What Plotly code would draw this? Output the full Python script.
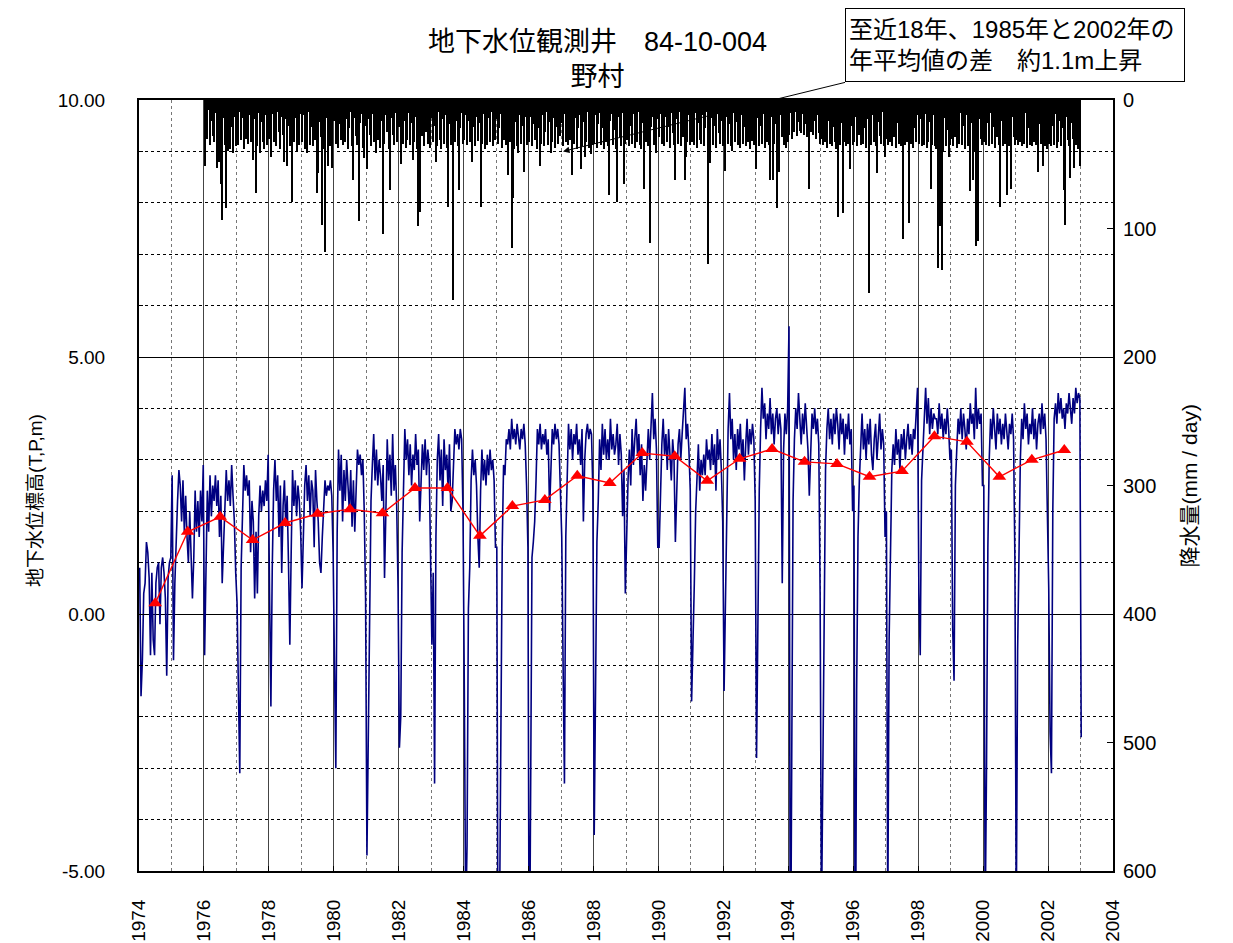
import plotly.graph_objects as go

# groundwater level (T.P. m), half-month readings, 24 per year
gw_1974 = [0.9, -1.6, -0.9, 0.4, 0.6, 1.4, 1.2, 0.7, -0.8, 0.8, -0.5, -0.8, 0.6, 0.9, 1.0, -0.2, 0.9, 1.1, 0.8, 0.3, -1.2, 0.7, 1.0, 1.1]
gw_1975 = [2.7, -0.9, 0.6, 1.5, 2.2, 2.8, 2.5, 1.8, 2.6, 1.6, 2.3, 1.5, 1.0, 2.0, 1.2, 0.3, 1.1, 2.4, 1.6, 2.2, 1.5, 2.4, 1.8, 2.9]
gw_1976 = [-0.8, 1.2, 2.4, 1.6, 2.7, 1.9, 2.5, 2.2, 2.7, 2.1, 2.6, 1.5, 2.3, 0.6, 1.4, 1.9, 2.8, 2.2, 2.6, 2.1, 2.9, 2.3, 1.8, 0.8]
gw_1977 = [0.2, -1.5, -3.1, 0.9, 1.8, 2.9, 2.4, 2.7, 2.3, 2.6, 1.2, 2.2, 1.8, 0.3, 1.6, 0.4, 1.9, 2.5, 2.0, 2.4, 2.1, 2.6, 2.2, 3.1]
gw_1978 = [0.4, -1.8, 0.9, 2.4, 3.0, 2.2, 2.7, 1.5, 2.5, 0.8, 2.1, 2.6, 1.7, 2.3, 1.0, -0.6, 1.2, 2.8, 2.1, 2.6, 1.9, 2.5, 2.2, 1.6]
gw_1979 = [0.5, 1.6, 2.5, 2.9, 2.2, 2.7, 1.9, 2.6, 2.4, 1.3, 2.8, 2.2, 1.8, 1.0, 0.8, 1.5, 2.1, 2.6, 2.3, 2.5, 2.4, 2.6, 2.3, 1.2]
gw_1980 = [-1.0, -3.0, 1.6, 3.2, 2.4, 3.1, 1.8, 2.8, 2.2, 3.0, 2.5, 2.0, 2.8, 1.7, 2.6, 1.6, 2.4, 3.2, 2.9, 3.1, 2.7, 3.0, 2.0, 0.3]
gw_1981 = [-4.7, -1.9, 0.8, 2.2, 2.9, 3.5, 2.6, 3.2, 2.5, 3.0, 2.7, 2.2, 2.9, 0.7, 2.0, 3.4, 2.6, 3.1, 2.3, 3.5, 2.4, 2.9, 2.1, 0.5]
gw_1982 = [-2.6, -2.0, 1.2, 2.6, 3.6, 3.0, 3.4, 2.7, 3.3, 2.5, 3.1, 2.8, 3.5, 2.9, 3.2, 1.8, 2.6, 3.3, 2.8, 3.4, 2.7, 3.2, 2.9, 1.2]
gw_1983 = [-0.6, 0.8, -3.3, 1.5, 3.0, 3.5, 2.6, 3.2, 2.1, 3.4, 2.8, 3.1, 2.4, 3.3, 2.0, 2.2, 2.9, 3.6, 3.3, 3.5, 3.2, 3.6, 3.4, 2.0]
gw_1984 = [-1.5, -6.0, -4.5, 0.1, 0.9, 2.6, 3.2, 2.7, 3.0, 2.5, 1.5, 0.9, 2.4, 3.2, 2.6, 3.0, 2.5, 3.1, 2.7, 3.2, 2.8, 3.0, 2.6, 1.3]
gw_1985 = [1.3, -8.0, -6.0, -1.2, 1.3, 2.9, 2.7, 3.4, 3.3, 3.6, 3.2, 3.8, 3.4, 3.6, 3.3, 3.7, 3.5, 3.2, 3.6, 3.4, 3.7, 3.3, 2.5, 1.3]
gw_1986 = [-8.0, -4.0, 1.1, 1.4, 1.8, 2.6, 3.6, 3.3, 3.7, 3.2, 3.5, 3.3, 3.6, 3.1, 3.4, 2.0, 3.0, 3.6, 3.3, 3.7, 3.4, 3.6, 3.3, 2.2]
gw_1987 = [1.5, -1.0, -3.3, 1.5, 2.8, 3.7, 3.2, 3.6, 3.0, 3.5, 3.3, 3.7, 3.1, 3.4, 2.9, 3.6, 1.8, 3.0, 3.5, 3.7, 3.4, 3.6, 3.5, 2.4]
gw_1988 = [-4.3, -1.9, 1.4, 2.2, 3.4, 2.8, 3.7, 3.1, 3.6, 3.0, 3.4, 3.0, 3.8, 3.2, 3.5, 3.1, 3.3, 3.7, 2.9, 3.5, 3.1, 1.9, 2.8, 0.4]
gw_1989 = [1.9, 2.6, 3.2, 2.5, 3.6, 2.9, 3.4, 3.8, 3.1, 3.5, 2.7, 3.3, 2.2, 2.9, 2.4, 3.2, 3.6, 3.0, 3.9, 4.3, 3.4, 3.8, 3.2, 1.3]
gw_1990 = [1.3, 2.4, 3.3, 3.8, 3.1, 3.5, 2.8, 3.6, 3.2, 2.6, 3.4, 3.0, 1.4, 2.2, 3.3, 3.6, 3.0, 3.5, 3.9, 4.4, 3.4, 3.7, 3.2, 2.4]
gw_1991 = [-1.7, -0.7, 0.6, 2.0, 2.6, 3.3, 2.4, 3.0, 2.7, 3.1, 2.7, 3.4, 3.0, 3.2, 2.8, 3.5, 2.9, 3.3, 2.4, 3.6, 3.0, 3.4, 2.8, 1.8]
gw_1992 = [-1.5, 0.1, 2.3, 3.6, 4.3, 3.4, 3.8, 3.0, 3.5, 2.8, 3.6, 3.2, 3.7, 3.0, 3.4, 2.6, 3.3, 3.8, 3.1, 3.6, 3.3, 3.7, 3.4, 2.2]
gw_1993 = [-2.8, 0.1, 2.4, 3.6, 4.4, 3.8, 4.1, 3.4, 3.9, 3.6, 4.2, 3.5, 3.9, 3.3, 3.8, 4.0, 3.5, 3.9, 3.6, 0.6, 3.2, 3.9, 3.5, 4.0]
gw_1994 = [5.6, -8.0, -2.0, 2.2, 3.4, 4.0, 3.6, 4.3, 3.8, 3.3, 3.9, 3.5, 4.1, 3.6, 3.2, 2.3, 3.4, 3.9, 3.6, 4.0, 3.5, 3.8, 3.3, 0.4]
gw_1995 = [-6.0, -2.5, 1.2, 2.8, 3.6, 4.0, 3.4, 3.8, 3.3, 3.9, 3.5, 4.0, 3.7, 3.2, 3.9, 3.5, 3.8, 3.1, 3.7, 3.4, 3.9, 3.3, 3.6, 2.0]
gw_1996 = [2.5, -8.0, -1.5, 1.5, 2.6, 3.5, 3.9, 3.2, 3.6, 3.0, 3.7, 3.3, 3.8, 3.1, 2.8, 3.4, 3.7, 3.0, 3.5, 3.9, 3.2, 3.6, 3.3, 1.5]
gw_1997 = [2.0, -6.0, -0.5, 1.0, 2.8, 3.3, 2.9, 3.6, 3.1, 3.4, 2.8, 3.5, 3.2, 3.6, 3.0, 3.4, 3.7, 3.2, 3.5, 3.1, 3.6, 3.4, 3.9, 4.4]
gw_1998 = [0.4, -0.8, 2.6, 3.2, 3.9, 4.4, 3.7, 4.2, 3.5, 4.0, 3.6, 3.9, 3.8, 3.8, 3.5, 4.1, 3.6, 3.9, 3.4, 3.8, 3.5, 4.0, 3.6, 3.0]
gw_1999 = [3.2, -0.3, -1.3, 2.5, 3.2, 3.8, 3.5, 4.0, 3.4, 3.9, 3.6, 3.2, 3.8, 3.5, 4.1, 3.7, 3.9, 3.4, 4.4, 3.6, 4.0, 3.7, 3.9, 2.5]
gw_2000 = [2.5, -6.0, -3.0, 1.3, 3.0, 3.8, 3.4, 4.0, 3.6, 3.2, 3.9, 3.5, 3.8, 3.3, 3.7, 3.4, 3.9, 3.6, 3.2, 3.7, 3.5, 3.9, 3.4, 1.0]
gw_2001 = [-6.0, -0.7, 1.5, 3.0, 3.8, 3.4, 4.1, 3.6, 3.9, 3.3, 3.7, 3.5, 4.0, 3.4, 3.8, 3.2, 3.7, 3.9, 3.5, 4.1, 3.6, 3.9, 3.4, 2.0]
gw_2002 = [0.5, -2.3, -3.1, 2.0, 3.8, 4.1, 3.7, 4.3, 3.9, 4.2, 3.8, 4.0, 3.6, 4.1, 3.9, 4.3, 4.0, 3.7, 4.2, 3.9, 4.4, 4.1, 4.3, 4.2]
gw_2003 = [-2.4]

# daily rainfall peaks (mm/day), half-month, 24 per year
rain_1976 = [51, 12, 30, 8, 35, 16, 28, 33, 10, 53, 22, 48, 65, 93, 14, 35, 84, 40, 9, 38, 21, 41, 13, 36]
rain_1977 = [18, 35, 9, 31, 14, 38, 11, 30, 34, 12, 33, 20, 47, 15, 72, 36, 10, 41, 17, 33, 38, 12, 35, 19]
rain_1978 = [30, 44, 11, 33, 16, 36, 9, 25, 38, 13, 27, 48, 15, 51, 20, 36, 10, 79, 33, 14, 40, 18, 35, 11]
rain_1979 = [33, 12, 38, 15, 41, 9, 35, 21, 36, 13, 31, 72, 57, 17, 29, 97, 38, 118, 14, 51, 20, 36, 53, 11]
rain_1980 = [16, 34, 10, 37, 19, 31, 35, 12, 33, 15, 38, 22, 9, 36, 62, 14, 28, 35, 94, 18, 11, 37, 45, 20]
rain_1981 = [54, 15, 27, 36, 11, 33, 18, 41, 31, 9, 37, 16, 104, 34, 12, 25, 38, 70, 14, 27, 35, 10, 33, 19]
rain_1982 = [21, 50, 12, 34, 16, 37, 31, 10, 35, 18, 47, 33, 13, 38, 98, 87, 15, 28, 36, 11, 25, 34, 17, 37]
rain_1983 = [14, 33, 20, 48, 36, 9, 31, 38, 15, 34, 12, 37, 83, 19, 35, 11, 156, 33, 16, 36, 70, 22, 10, 34]
rain_1984 = [31, 12, 35, 16, 33, 10, 48, 21, 36, 13, 32, 18, 83, 34, 11, 38, 20, 35, 14, 33, 9, 36, 17, 31]
rain_1985 = [15, 34, 22, 11, 37, 31, 14, 35, 58, 10, 33, 115, 76, 38, 17, 36, 41, 12, 34, 20, 56, 13, 35, 18]
rain_1986 = [33, 13, 36, 19, 31, 10, 38, 22, 51, 34, 12, 36, 25, 9, 35, 17, 41, 33, 14, 37, 21, 34, 11, 28]
rain_1987 = [18, 36, 11, 33, 15, 35, 31, 10, 58, 34, 14, 38, 22, 12, 54, 36, 17, 44, 33, 9, 37, 20, 42, 35]
rain_1988 = [34, 12, 37, 19, 10, 35, 22, 38, 14, 33, 36, 74, 16, 11, 35, 23, 38, 79, 13, 29, 36, 10, 65, 34]
rain_1989 = [31, 14, 36, 20, 34, 11, 37, 16, 33, 9, 35, 38, 18, 69, 33, 12, 36, 111, 21, 13, 35, 30, 41, 15]
rain_1990 = [29, 11, 34, 17, 36, 13, 33, 21, 37, 10, 26, 35, 62, 15, 34, 9, 36, 19, 29, 62, 44, 33, 12, 35]
rain_1991 = [33, 15, 35, 10, 37, 18, 31, 34, 12, 36, 22, 9, 128, 33, 49, 14, 35, 20, 37, 11, 26, 34, 16, 36]
rain_1992 = [31, 55, 13, 34, 19, 36, 40, 10, 33, 17, 35, 31, 37, 12, 34, 21, 36, 9, 33, 38, 15, 32, 35, 11]
rain_1993 = [54, 14, 36, 20, 34, 11, 37, 17, 33, 35, 62, 13, 62, 34, 19, 84, 36, 56, 12, 29, 35, 16, 37, 33]
rain_1994 = [27, 10, 30, 14, 25, 9, 28, 17, 24, 26, 11, 27, 19, 29, 13, 69, 25, 10, 27, 16, 30, 12, 26, 34]
rain_1995 = [30, 35, 12, 33, 37, 16, 34, 10, 36, 21, 33, 38, 91, 14, 35, 18, 88, 33, 36, 11, 34, 54, 20, 35]
rain_1996 = [33, 13, 36, 19, 27, 35, 10, 34, 22, 37, 15, 150, 30, 35, 12, 33, 36, 57, 17, 28, 34, 9, 36, 44]
rain_1997 = [30, 35, 14, 33, 36, 11, 29, 37, 18, 34, 10, 36, 108, 21, 35, 33, 13, 96, 34, 16, 37, 22, 33, 12]
rain_1998 = [34, 15, 36, 21, 35, 11, 37, 33, 17, 69, 35, 12, 36, 38, 131, 20, 98, 132, 40, 14, 36, 23, 44, 35]
rain_1999 = [30, 36, 13, 29, 37, 16, 34, 10, 35, 20, 38, 12, 36, 33, 71, 18, 62, 40, 114, 36, 110, 15, 30, 35]
rain_2000 = [33, 12, 35, 18, 36, 10, 34, 21, 37, 14, 29, 35, 83, 16, 36, 11, 34, 74, 20, 36, 69, 13, 29, 35]
rain_2001 = [31, 35, 12, 33, 36, 17, 34, 10, 37, 22, 35, 14, 36, 33, 11, 35, 56, 19, 34, 13, 51, 36, 20, 38]
rain_2002 = [34, 14, 36, 20, 35, 11, 37, 33, 16, 36, 22, 70, 97, 13, 31, 36, 61, 18, 30, 53, 35, 12, 38, 51]

# annual mean groundwater level
mean_years = list(range(1974, 2003))
mean_levels = [0.21, 1.60, 1.89, 1.44, 1.77, 1.95, 2.04, 1.96, 2.45, 2.45, 1.52, 2.10, 2.22, 2.69,
               2.55, 3.13, 3.07, 2.59, 3.02, 3.21, 2.96, 2.92, 2.67, 2.78, 3.46, 3.35, 2.67, 3.00, 3.19]

# left axis tick labels
level_ticks = [-5, 0, 5, 10]
level_tick_text = ["-5.00", "0.00", "5.00", "10.00"]

gw_by_year = {
    1974: gw_1974, 1975: gw_1975, 1976: gw_1976, 1977: gw_1977, 1978: gw_1978, 1979: gw_1979,
    1980: gw_1980, 1981: gw_1981, 1982: gw_1982, 1983: gw_1983, 1984: gw_1984, 1985: gw_1985,
    1986: gw_1986, 1987: gw_1987, 1988: gw_1988, 1989: gw_1989, 1990: gw_1990, 1991: gw_1991,
    1992: gw_1992, 1993: gw_1993, 1994: gw_1994, 1995: gw_1995, 1996: gw_1996, 1997: gw_1997,
    1998: gw_1998, 1999: gw_1999, 2000: gw_2000, 2001: gw_2001, 2002: gw_2002, 2003: gw_2003,
}
rain_by_year = {
    1976: rain_1976, 1977: rain_1977, 1978: rain_1978, 1979: rain_1979, 1980: rain_1980,
    1981: rain_1981, 1982: rain_1982, 1983: rain_1983, 1984: rain_1984, 1985: rain_1985,
    1986: rain_1986, 1987: rain_1987, 1988: rain_1988, 1989: rain_1989, 1990: rain_1990,
    1991: rain_1991, 1992: rain_1992, 1993: rain_1993, 1994: rain_1994, 1995: rain_1995,
    1996: rain_1996, 1997: rain_1997, 1998: rain_1998, 1999: rain_1999, 2000: rain_2000,
    2001: rain_2001, 2002: rain_2002,
}

gw_t, gw_v = [], []
for yr, vals in gw_by_year.items():
    for i, v in enumerate(vals):
        gw_t.append(yr + (i + 0.5) / 24)
        gw_v.append(v)

rain_t, rain_v = [], []
for yr, vals in rain_by_year.items():
    for i, v in enumerate(vals):
        rain_t.append(yr + (i + 0.5) / 24)
        rain_v.append(v)

FONT = "Liberation Sans, Arial, Noto Sans CJK JP, sans-serif"

fig = go.Figure()

fig.add_trace(go.Bar(
    x=rain_t, y=rain_v, yaxis="y2", width=0.85 / 24,
    marker=dict(color="black", line=dict(width=0)),
))
fig.add_trace(go.Scatter(
    x=gw_t, y=gw_v, mode="lines",
    line=dict(color="#000080", width=1.6),
))
fig.add_trace(go.Scatter(
    x=[y + 0.5 for y in mean_years], y=mean_levels, mode="lines+markers",
    line=dict(color="red", width=1.4),
    marker=dict(symbol="triangle-up", size=12, color="red"),
))

# title
fig.add_annotation(
    text="地下水位観測井　84-10-004<br>野村", xref="paper", yref="paper",
    x=0.471, y=1.053, xanchor="center", yanchor="middle", showarrow=False,
    font=dict(family=FONT, size=27, color="black"),
)

# arrow + note box
fig.add_annotation(
    x=1987.06, y=9.0, xref="x", yref="y",
    ax=282, ay=-69,
    text="至近18年、1985年と2002年の<br>年平均値の差　約1.1m上昇",
    showarrow=True, arrowhead=2, arrowsize=1.3, arrowwidth=1, arrowcolor="black",
    xanchor="left", yanchor="bottom", align="left",
    width=332, height=66, borderpad=3,
    bordercolor="black", borderwidth=1, bgcolor="white",
    font=dict(family=FONT, size=24, color="black"),
)

# axis titles placed as rotated text
fig.add_annotation(
    text="地下水位標高(T,P,m)", textangle=-90, xref="paper", yref="paper",
    x=-0.107, y=0.481, xanchor="center", yanchor="middle", showarrow=False,
    font=dict(family=FONT, size=19, color="black"),
)
fig.add_annotation(
    text="降水量(mm / day)", textangle=-90, xref="paper", yref="paper",
    x=1.079, y=0.50, xanchor="center", yanchor="middle", showarrow=False,
    font=dict(family=FONT, size=21, color="black"),
)

# page body adds an 8px offset, so the figure is trimmed by 8px
fig.update_layout(
    width=1225, height=935,
    margin=dict(l=131, r=120, t=92, b=72),
    plot_bgcolor="white", paper_bgcolor="white",
    showlegend=False, bargap=0,
    font=dict(family=FONT, color="black"),
    xaxis=dict(
        range=[1974, 2004], tick0=1974, dtick=2, tickangle=-90,
        showgrid=True, gridcolor="#444444", gridwidth=1,
        minor=dict(dtick=1, showgrid=True, gridcolor="#777777", griddash="dot", gridwidth=1),
        showline=True, linecolor="black", linewidth=2, mirror=True,
        ticks="inside", ticklen=5, tickcolor="black",
        tickfont=dict(size=19), ticklabelstandoff=19, zeroline=False,
        automargin=False,
    ),
    yaxis=dict(
        range=[-5, 10], tickmode="array", tickvals=level_ticks, ticktext=level_tick_text,
        showgrid=True, gridcolor="black", gridwidth=1,
        minor=dict(dtick=1, tick0=0, showgrid=True, gridcolor="black", griddash="dot", gridwidth=1,
                   ticks="inside", ticklen=4, tickcolor="black"),
        showline=True, linecolor="black", linewidth=2,
        ticks="inside", ticklen=6, tickcolor="black",
        tickfont=dict(size=19), ticklabelstandoff=28, zeroline=False,
        automargin=False,
    ),
    yaxis2=dict(
        overlaying="y", side="right", range=[600, 0], tick0=0, dtick=100,
        showgrid=False, showline=True, linecolor="black", linewidth=2,
        ticks="inside", ticklen=6, tickcolor="black",
        tickfont=dict(size=20), ticklabelstandoff=4, zeroline=False,
        automargin=False,
    ),
)

fig.write_html("out.html")
